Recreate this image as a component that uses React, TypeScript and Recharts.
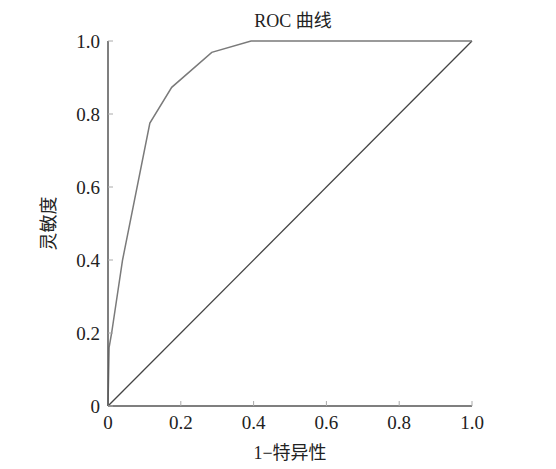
import React from 'react';
import { LineChart, Line, XAxis, YAxis } from 'recharts';

// ROC curve points (1 - specificity, sensitivity)
const fpr = [0, 0.003, 0.01, 0.04, 0.115, 0.175, 0.285, 0.393, 1.0];
const tpr = [0, 0.16, 0.2, 0.4, 0.775, 0.873, 0.969, 1.0, 1.0];

// chance line
const diagX = [0, 1];
const diagY = [0, 1];

const ticks = [0, 0.2, 0.4, 0.6, 0.8, 1.0];

const rocData = fpr.map((x, i) => ({ x, y: tpr[i] }));
const diagData = diagX.map((x, i) => ({ x, y: diagY[i] }));

const FONT = '"Liberation Serif", "Times New Roman", "Noto Sans CJK SC", serif';
const fmt = (v: number) => (v === 0 ? '0' : v.toFixed(1));

const App: React.FC = () => {
  return (
    <div style={{ position: 'absolute', left: 0, top: 0, width: 556, height: 469, background: '#fff' }}>
      <div
        style={{
          position: 'absolute',
          left: 108,
          width: 370,
          top: 6,
          textAlign: 'center',
          fontFamily: FONT,
          fontSize: 18,
          color: '#222',
        }}
      >
        ROC 曲线
      </div>
      <LineChart
        width={556}
        height={469}
        margin={{ top: 41, right: 84, left: 38, bottom: 0 }}
      >
        <XAxis
          type="number"
          dataKey="x"
          domain={[0, 1]}
          ticks={ticks}
          tickFormatter={fmt}
          height={63}
          tickSize={-5}
          tickMargin={15}
          stroke="#555"
          tickLine={{ stroke: '#aaa' }}
          axisLine={{ stroke: '#555', strokeWidth: 1.5 }}
          tick={{ fontSize: 19, fill: '#222', fontFamily: FONT }}
          label={{
            value: '1−特异性',
            position: 'insideBottom',
            offset: 10,
            style: { fontSize: 18, fill: '#222', fontFamily: FONT },
          }}
        />
        <YAxis
          type="number"
          dataKey="y"
          domain={[0, 1]}
          ticks={ticks}
          tickFormatter={fmt}
          width={70}
          tickSize={-5}
          tickMargin={13}
          stroke="#555"
          tickLine={{ stroke: '#aaa' }}
          axisLine={{ stroke: '#555', strokeWidth: 1.5 }}
          tick={{ fontSize: 19, fill: '#222', fontFamily: FONT }}
          label={{
            value: '灵敏度',
            angle: -90,
            position: 'insideLeft',
            offset: 11,
            style: { fontSize: 18, fill: '#222', fontFamily: FONT, textAnchor: 'middle' },
          }}
        />
        <Line
          data={diagData}
          dataKey="y"
          type="linear"
          stroke="#444"
          strokeWidth={1.3}
          dot={false}
          isAnimationActive={false}
        />
        <Line
          data={rocData}
          dataKey="y"
          type="linear"
          stroke="#7a7a7a"
          strokeWidth={1.5}
          dot={false}
          isAnimationActive={false}
        />
      </LineChart>
    </div>
  );
};

export default App;
